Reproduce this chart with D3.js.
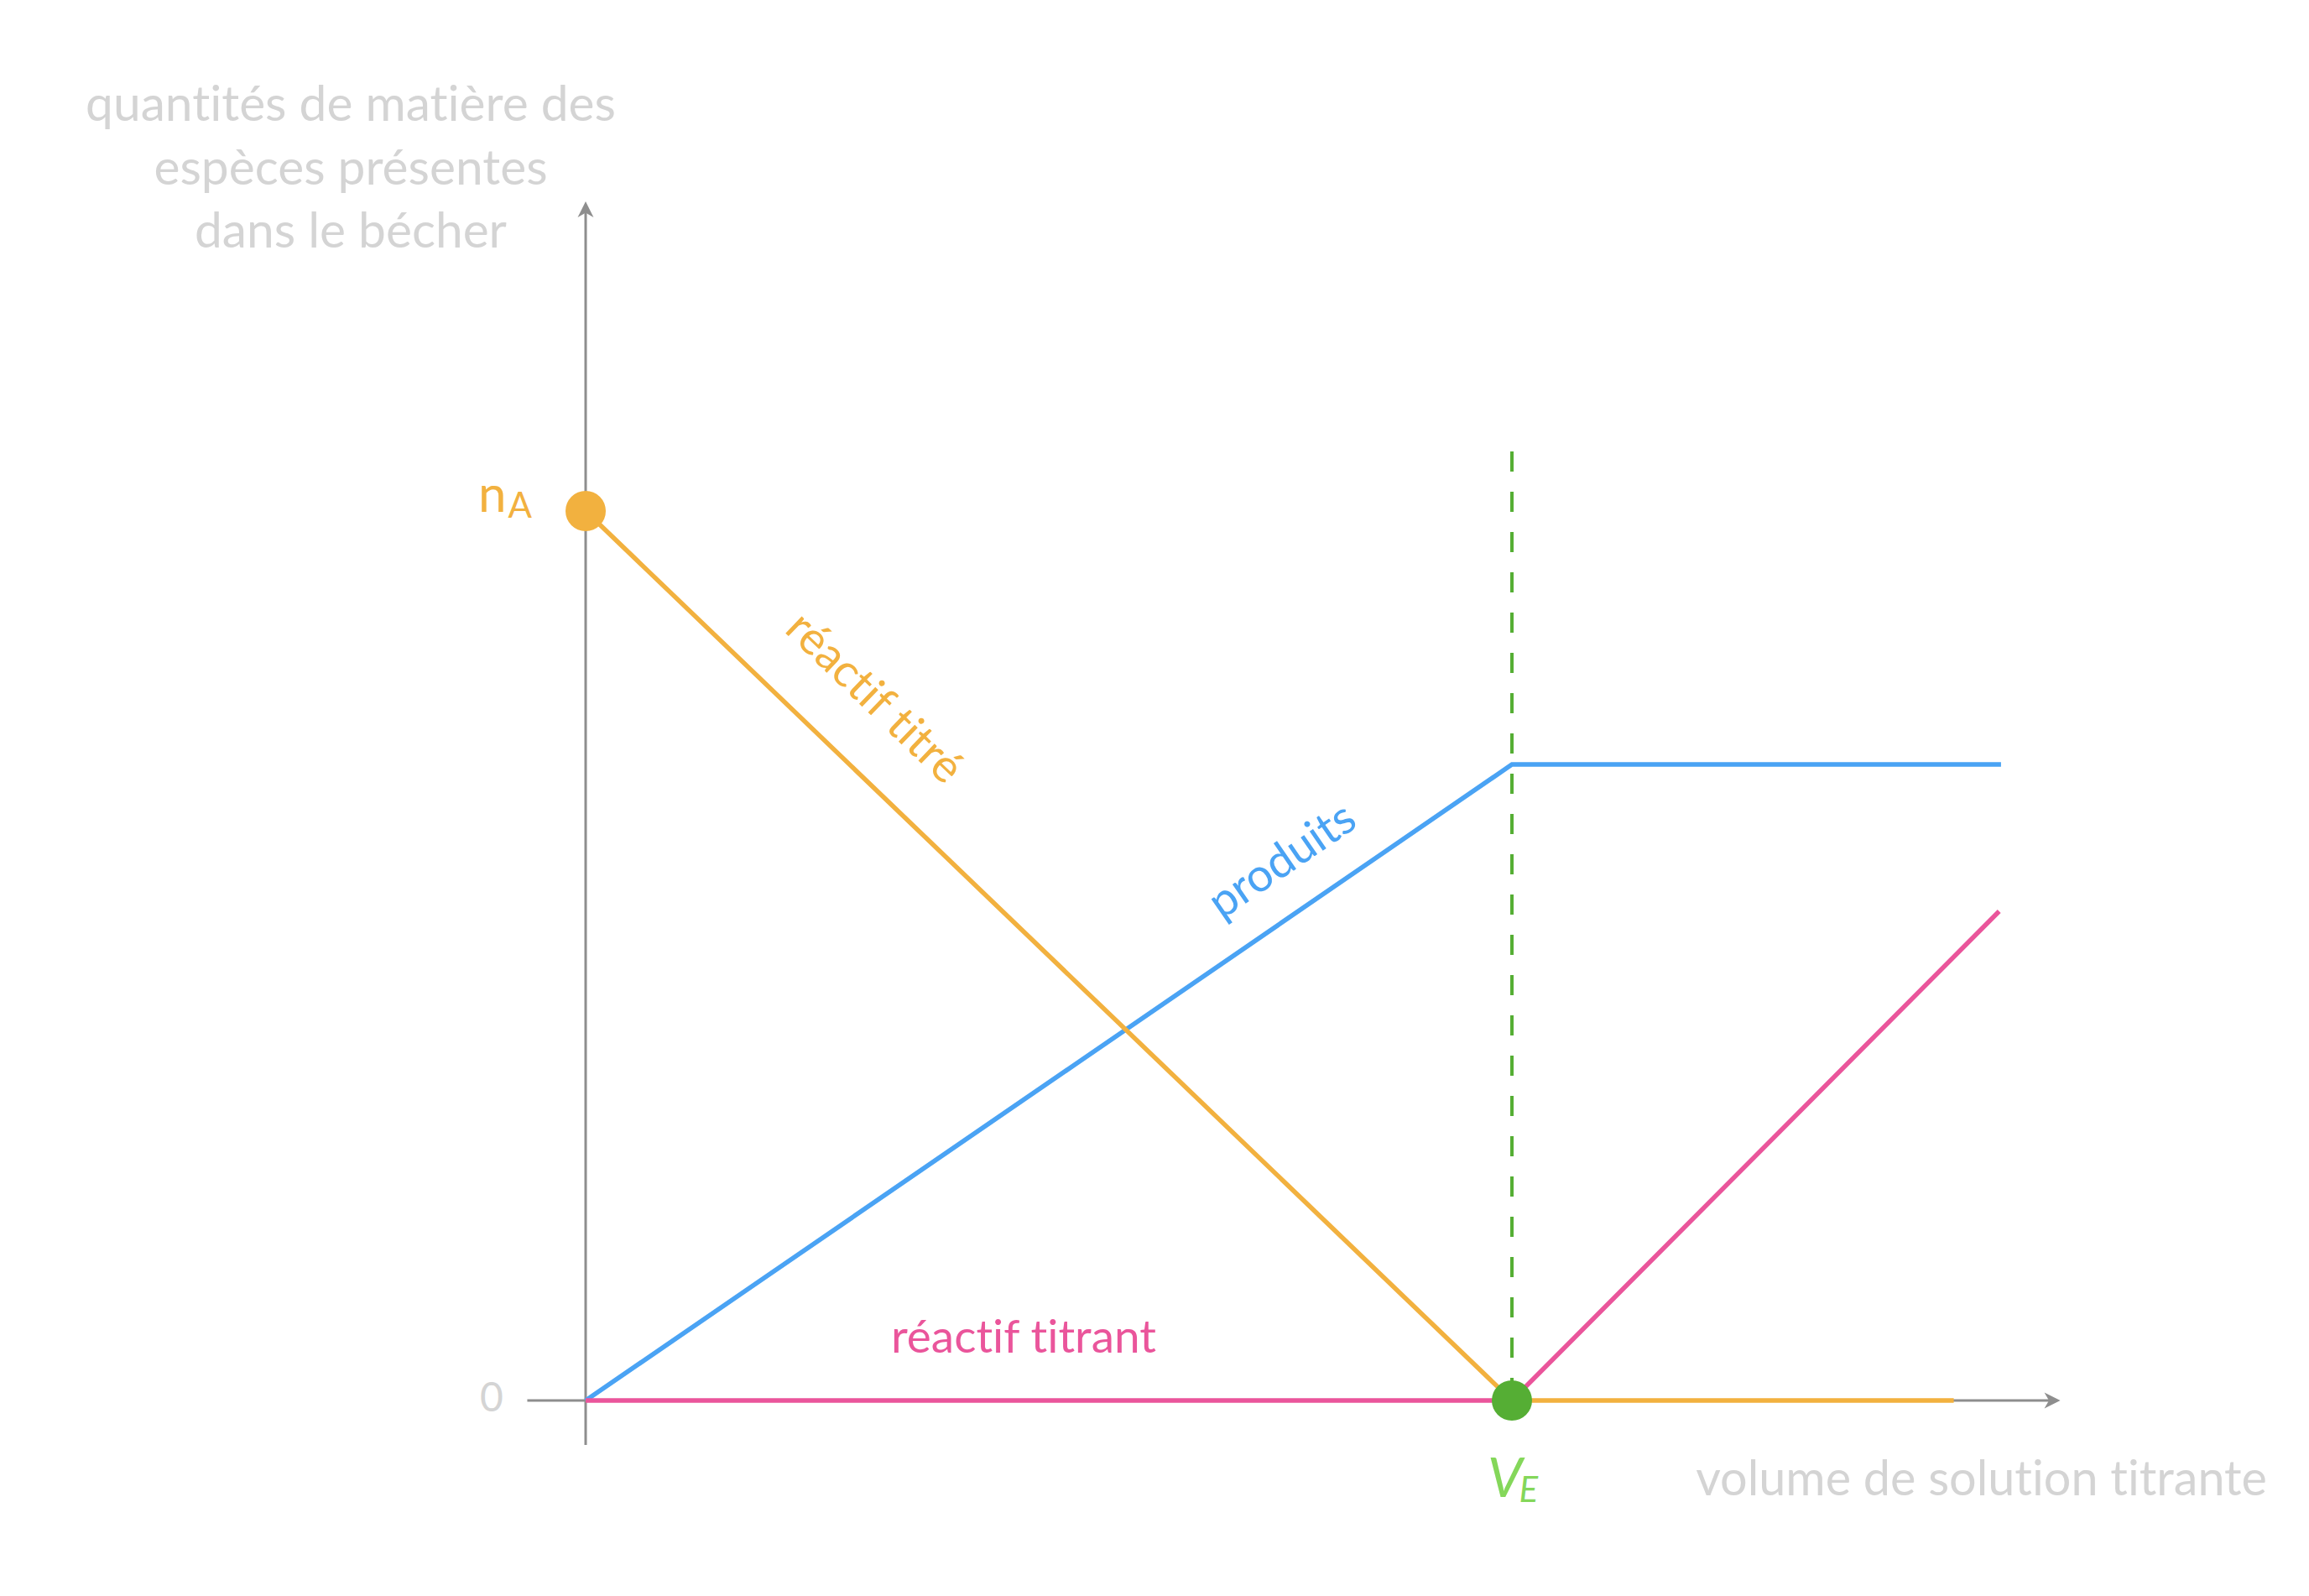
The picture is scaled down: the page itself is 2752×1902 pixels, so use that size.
<!DOCTYPE html>
<html>
<head>
<meta charset="utf-8">
<script src="https://cdn.jsdelivr.net/npm/d3@7"></script>
<style>
  html, body { margin: 0; padding: 0; background: #ffffff; }
  svg { display: block; }
  text { font-family: "Lato", "Open Sans", "DejaVu Sans", sans-serif; font-variant-ligatures: none; font-feature-settings: "liga" 0, "clig" 0; }
</style>
</head>
<body>
<svg id="chart" width="2752" height="1902"></svg>
<script>
// ---- data (volume in units where V_E = 10, quantities where n_A = 10) ----
const VE = 10;
const nA = 10;
const titreV = [0, 10, 14.77];
const titreN = [10, 0, 0];
const produitsV = [0, 10, 15.28];
const produitsN = [0, 7.15, 7.15];
const titrantV = [0, 10, 15.26];
const titrantN = [0, 0, 5.5];
const xAxisExtent = [-0.63, 15.92];
const yAxisExtent = [-0.5, 13.48];
const dashTop = 10.67;
const yTickLabels = ["0"];
const titleLines = ["quantités de matière des", "espèces présentes", "dans le bécher"];
const xTitle = "volume de solution titrante";
const seriesNames = ["réactif titré", "produits", "réactif titrant"];

// ---- style ----
const C = {
  orange: "#f2b13f", blue: "#4aa3f4", pink: "#ea559b",
  axis: "#8e8e8e", text: "#d4d4d4", green: "#55ae34", greenText: "#84d75a"
};

const svg = d3.select("#chart");
const x = d3.scaleLinear().domain([0, 10]).range([698, 1802]);
const y = d3.scaleLinear().domain([0, 10]).range([1669, 609]);

function fit(sel, target) {
  const len = sel.node().getComputedTextLength();
  const f = parseFloat(sel.attr("font-size"));
  sel.attr("font-size", f * target / len);
  return f * target / len;
}

// ---- axes ----
const arrow = "M0,0 L-19,-9.5 L-13.5,0 L-19,9.5 Z";
svg.append("line")
  .attr("x1", x(xAxisExtent[0])).attr("x2", x(xAxisExtent[1]) - 12)
  .attr("y1", y(0)).attr("y2", y(0))
  .attr("stroke", C.axis).attr("stroke-width", 3);
svg.append("path").attr("d", arrow).attr("fill", C.axis)
  .attr("transform", `translate(${x(xAxisExtent[1])},${y(0)})`);
svg.append("line")
  .attr("x1", x(0)).attr("x2", x(0))
  .attr("y1", y(yAxisExtent[0])).attr("y2", y(yAxisExtent[1]) + 12)
  .attr("stroke", C.axis).attr("stroke-width", 3);
svg.append("path").attr("d", arrow).attr("fill", C.axis)
  .attr("transform", `translate(${x(0)},${y(yAxisExtent[1])}) rotate(-90)`);

// ---- dashed equivalence line ----
svg.append("line")
  .attr("x1", x(VE)).attr("x2", x(VE))
  .attr("y1", y(dashTop)).attr("y2", y(0))
  .attr("stroke", C.green).attr("stroke-width", 4)
  .attr("stroke-dasharray", "24,24");

// ---- series ----
const line = d3.line().x(d => x(d[0])).y(d => y(d[1]));
const series = [
  { v: produitsV, n: produitsN, color: C.blue },
  { v: titrantV, n: titrantN, color: C.pink },
  { v: titreV, n: titreN, color: C.orange }
];
series.forEach(s => {
  svg.append("path")
    .attr("d", line(s.v.map((v, i) => [v, s.n[i]])))
    .attr("fill", "none").attr("stroke", s.color)
    .attr("stroke-width", 5.5).attr("stroke-linejoin", "miter");
});

// ---- dots ----
svg.append("circle").attr("cx", x(0)).attr("cy", y(nA)).attr("r", 24).attr("fill", C.orange);
svg.append("circle").attr("cx", x(VE)).attr("cy", y(0)).attr("r", 24).attr("fill", C.green);

// ---- titles ----
const tl = svg.append("g");
let titleSize = 60;
titleLines.forEach((t, i) => {
  const el = tl.append("text")
    .attr("x", 418).attr("y", 144 + i * 75.5)
    .attr("text-anchor", "middle").attr("fill", C.text)
    .attr("font-size", titleSize).text(t);
  if (i === 0) titleSize = fit(el, 632);
  else el.attr("font-size", titleSize);
});
const xt = svg.append("text")
  .attr("x", 2702).attr("y", 1782).attr("text-anchor", "end")
  .attr("fill", C.text).attr("font-size", 60).text(xTitle);
fit(xt, 681);

// ---- tick label 0 ----
svg.append("text").attr("x", 586).attr("y", 1682).attr("text-anchor", "middle")
  .attr("fill", C.text).attr("font-size", 48).text(yTickLabels[0]);

// ---- nA label ----
const na = svg.append("text").attr("x", 634).attr("y", 610).attr("text-anchor", "end")
  .attr("fill", C.orange).attr("font-size", 60);
na.append("tspan").text("n");
na.append("tspan").attr("font-size", 42).attr("dy", 7).attr("dx", 2).text("A");

// ---- VE label ----
const ve = svg.append("text").attr("x", 1773).attr("y", 1784)
  .attr("fill", C.greenText).attr("font-size", 66).attr("font-style", "italic");
ve.append("tspan").text("V");
ve.append("tspan").attr("font-size", 42).attr("dy", 6).attr("dx", -4).text("E");

// ---- series labels ----
const pinkLabel = svg.append("text").attr("x", 1062).attr("y", 1612)
  .attr("fill", C.pink).attr("font-size", 56).text(seriesNames[2]);
const labelSize = fit(pinkLabel, 316);

function alongLabel(vArr, nArr, seg, at, offset, text, color) {
  const p0 = [x(vArr[seg]), y(nArr[seg])];
  const p1 = [x(vArr[seg + 1]), y(nArr[seg + 1])];
  const th = Math.atan2(p1[1] - p0[1], p1[0] - p0[0]);
  const t = (at - vArr[seg]) / (vArr[seg + 1] - vArr[seg]);
  const px = p0[0] + t * (p1[0] - p0[0]);
  const py = p0[1] + t * (p1[1] - p0[1]);
  const ux = Math.sin(th), uy = -Math.cos(th);
  svg.append("text")
    .attr("transform", `translate(${px + ux * offset},${py + uy * offset}) rotate(${th * 180 / Math.PI})`)
    .attr("text-anchor", "middle").attr("fill", color)
    .attr("font-size", labelSize).text(text);
}
alongLabel(titreV, titreN, 0, 2.63, 60, seriesNames[0], C.orange);
alongLabel(produitsV, produitsN, 0, 7.83, 43, seriesNames[1], C.blue);
</script>
</body>
</html>
